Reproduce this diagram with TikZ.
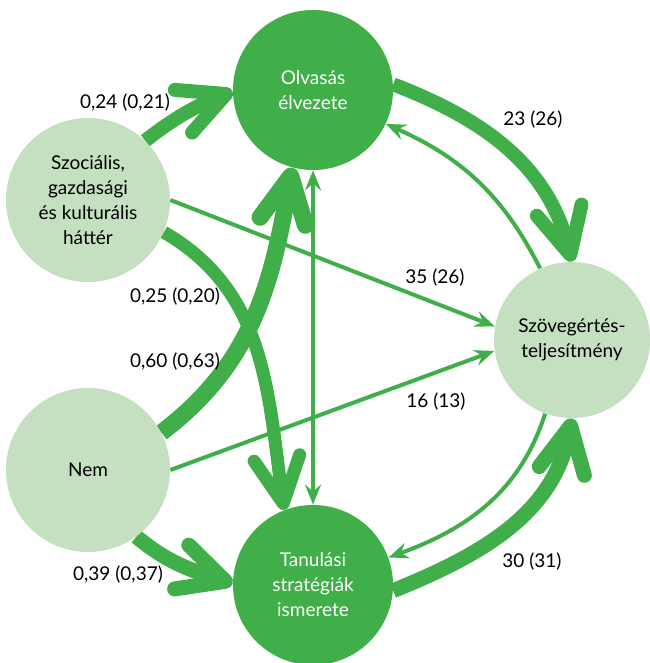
\documentclass[tikz,border=0pt]{standalone}
\usepackage{fontspec}
\setmainfont{Lato}
\usetikzlibrary{arrows.meta,backgrounds}
\definecolor{pgreen}{RGB}{64,174,73}
\definecolor{lgreen}{RGB}{197,224,192}
\begin{document}
\begin{tikzpicture}[x=.5pt, y=.5pt, >={Stealth[length=10pt, width=8pt, inset=3.5pt]},
  circ/.style={circle, inner sep=0pt, minimum size=#1, align=center, font=\fontsize{9.5}{12.5}\selectfont},
  light/.style={circ=82pt, fill=lgreen, text=black},
  dark/.style={circ=80pt, fill=pgreen, text=white},
  strong/.style={draw=pgreen, line width=#1, -{Straight Barb[round, length=23pt, width=23pt]}},
  weak/.style={draw=pgreen, line width=2pt, ->},
  lab/.style={font=\fontsize{9.5}{12}\selectfont}]
 \useasboundingbox (0,0) rectangle (649,663);
 % circles
 \node[dark] (olv) at (313,573) {Olvasás\\élvezete};
 \node[dark] (tan) at (313,78) {Tanulási\\stratégiák\\ismerete};
 \node[light] (soc) at (88,463) {Szociális,\\gazdasági\\és kulturális\\háttér};
 \node[light] (nem) at (88,193) {Nem};
 \node[light, minimum size=78pt] (szo) at (572,323) {Szövegértés-\\teljesítmény};
 % paths
 \begin{scope}[on background layer]
 \draw[strong=7pt] (soc.46) to[out=38, in=202] (olv.181);
 \draw[weak] (soc.0) -- (szo.170);
 \draw[strong=6.5pt] (soc.-23) to[out=-30, in=98] (tan.111);
 \draw[strong=8.5pt] (nem.27) to[out=37, in=260] (olv.255);
 \draw[weak] (nem.0) -- (szo.188);
 \draw[strong=7.5pt] (nem.-54) to[out=-40, in=162] (tan.179);
 \draw[weak, <->] (olv.south) -- (tan.north);
 \draw[strong=7pt] (olv.4) to[out=-21, in=104] (szo.90);
 \draw[weak] (szo.114) to[out=117, in=336] (olv.335);
 \draw[strong=7.5pt] (tan.-4) to[out=22, in=259] (szo.270);
 \draw[weak] (szo.250) to[out=252, in=20] (tan.20);
 \end{scope}
 % coefficients
 \node[lab] (l1) at (125,560) {0,24 (0,21)};
 \node[lab] (l2) at (435,385) {35 (26)};
 \node[lab] (l3) at (175,366) {0,25 (0,20)};
 \node[lab] (l4) at (175,301) {0,60 (0,63)};
 \node[lab] (l5) at (436,261) {16 (13)};
 \node[lab] (l6) at (118,88) {0,39 (0,37)};
 \node[lab] (l7) at (533,543) {23 (26)};
 \node[lab] (l8) at (532,101) {30 (31)};
\end{tikzpicture}
\end{document}
